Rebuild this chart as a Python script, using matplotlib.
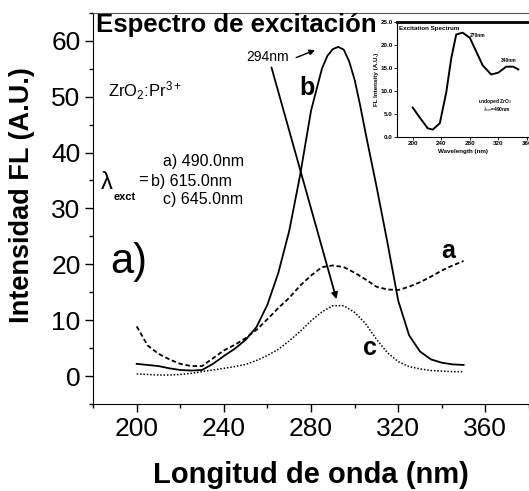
import matplotlib

matplotlib.use('Agg')

import matplotlib.pyplot as plt
from matplotlib.ticker import MultipleLocator

plt.rcParams['font.family'] = ['Liberation Sans', 'DejaVu Sans']
plt.rcParams['mathtext.fontset'] = 'custom'
plt.rcParams['mathtext.rm'] = 'Liberation Sans'
plt.rcParams['mathtext.it'] = 'Liberation Sans:italic'
plt.rcParams['mathtext.bf'] = 'Liberation Sans:bold'

# excitation spectra, ZrO2:Pr3+
wl = [200, 205, 210, 215, 220, 225, 230, 235, 240, 245, 250, 255, 260, 265, 270, 275,
      280, 285, 290, 295, 300, 305, 310, 315, 320, 325, 330, 335, 340, 345, 350]
int_a = [8.9, 5.5, 4.0, 3.0, 2.2, 1.8, 1.8, 3.2, 4.6, 5.6, 6.8, 8.3, 10.2, 12.2, 14.0, 16.2,
         18.0, 19.5, 19.8, 19.5, 18.5, 17.3, 16.0, 15.5, 15.4, 16.0, 16.8, 17.8, 18.9, 19.8, 20.6]
int_c = [0.4, 0.3, 0.2, 0.2, 0.3, 0.5, 0.8, 1.1, 1.4, 1.7, 2.1, 2.8, 3.7, 4.8, 6.3, 8.0,
         9.9, 11.5, 12.6, 12.6, 11.4, 9.4, 6.6, 4.2, 2.6, 1.7, 1.3, 1.0, 0.9, 0.8, 0.8]

wl_b = [200, 205, 210, 215, 220, 225, 230, 235, 240, 245, 250, 255, 260, 265, 270, 275,
        280, 285, 287.5, 290, 292.5, 295, 297.5, 300, 302.5, 305, 310, 315, 320, 325, 330,
        335, 340, 345, 350]
int_b = [2.2, 2.0, 1.8, 1.4, 1.1, 1.0, 1.1, 2.2, 3.6, 4.9, 6.5, 8.8, 12.8, 18.5, 26.0, 36.0,
         47.5, 55.0, 57.3, 58.5, 58.9, 58.4, 56.3, 53.0, 48.5, 43.5, 34.0, 24.0, 13.5, 7.3, 4.4,
         3.0, 2.4, 2.1, 2.0]

# inset: undoped ZrO2
inset_wl = [200, 210, 221, 228, 238, 247, 254, 261, 270, 280, 289, 298, 310, 320, 331, 341, 348]
inset_fl = [6.4, 4.2, 1.9, 1.6, 3.0, 9.7, 17.1, 22.3, 22.7, 21.6, 18.6, 15.6, 13.6, 14.0, 15.3, 15.3, 14.7]

xticks = [200, 240, 280, 320, 360]

fig = plt.figure(figsize=(5.29, 4.91), dpi=100)
ax = fig.add_axes([0.176, 0.177, 0.824, 0.797])

ax.plot(wl_b, int_b, color='black', lw=1.3)
ax.plot(wl, int_a, color='black', lw=1.3, linestyle=(0, (2.5, 1.5)))
ax.plot(wl, int_c, color='black', lw=1.1, linestyle=(0, (1, 1.2)))

ax.set_xlim(180, 380)
ax.set_ylim(-5, 65)
ax.set_xticks(xticks)
ax.xaxis.set_minor_locator(MultipleLocator(20))
ax.yaxis.set_major_locator(MultipleLocator(10))
ax.yaxis.set_minor_locator(MultipleLocator(5))
ax.tick_params(which='major', direction='out', length=6, width=1, labelsize=19, pad=3)
ax.tick_params(which='minor', direction='out', length=3, width=1)
ax.spines['right'].set_visible(False)
ax.spines['top'].set_color('#555555')

ax.set_xlabel('Longitud de onda (nm)', fontsize=21, fontweight='bold', labelpad=15)
ax.set_ylabel('Intensidad FL (A.U.)', fontsize=19.5, fontweight='bold')
ax.yaxis.set_label_coords(-0.133, 0.535)

ax.text(181.5, 62.8, 'Espectro de excitación', fontsize=18.5, fontweight='bold', va='center')
ax.text(187, 51, 'ZrO$_2$:Pr$^{3+}$', fontsize=12, va='center')
ax.text(183.5, 34.6, 'λ', fontsize=17, va='center')
ax.text(189.5, 32.0, 'exct', fontsize=8, fontweight='bold', va='center')
ax.text(200.8, 35.0, '=', fontsize=12, va='center')
ax.text(212, 38.4, 'a) 490.0nm', fontsize=11.5, va='center')
ax.text(206.5, 34.9, 'b) 615.0nm', fontsize=11.5, va='center')
ax.text(212, 31.6, 'c) 645.0nm', fontsize=11.5, va='center')
ax.text(188, 20.5, 'a)', fontsize=30, va='center')

ax.text(278, 51.5, 'b', fontsize=18, fontweight='bold', ha='center', va='center')
ax.text(343, 22.4, 'a', fontsize=18, fontweight='bold', ha='center', va='center')
ax.text(307, 5.0, 'c', fontsize=18, fontweight='bold', ha='center', va='center')

ax.text(260, 57.0, '294nm', fontsize=10, ha='center', va='center')
ax.annotate('', xy=(283, 58.5), xytext=(272, 56.8),
            arrowprops=dict(arrowstyle='-|>', color='black', lw=1, mutation_scale=8))
ax.annotate('', xy=(292, 13.3), xytext=(261.5, 55.7),
            arrowprops=dict(arrowstyle='-|>', color='black', lw=1.3, mutation_scale=9))

# inset
ins = fig.add_axes([0.7505, 0.721, 0.2495, 0.234])
ins.plot(inset_wl, inset_fl, color='black', lw=1.4)
ins.set_xlim(178, 363)
ins.set_ylim(0, 25)
ins.set_xticks(xticks)
ins.set_yticks([0, 5, 10, 15, 20, 25])
ins.set_yticklabels(['0.0', '5.0', '10.0', '15.0', '20.0', '25.0'])
ins.tick_params(labelsize=4.5, length=2, width=0.6, pad=1)
for lbl in ins.get_xticklabels() + ins.get_yticklabels():
    lbl.set_fontweight('bold')
ins.spines['top'].set_linewidth(2)
ins.spines['right'].set_visible(False)
ins.set_xlabel('Wavelength (nm)', fontsize=4.5, fontweight='bold', labelpad=2)
ins.set_ylabel('FL Intensity (A.U.)', fontsize=4.5, fontweight='bold', labelpad=1)
ins.text(181, 23.5, 'Excitation Spectrum', fontsize=4.5, fontweight='bold', va='center')
ins.text(280, 22.0, '270nm', fontsize=3.5, fontweight='bold', va='center')
ins.text(323, 16.6, '340nm', fontsize=3.5, fontweight='bold', va='center')
ins.text(291, 7.8, 'undoped ZrO$_2$', fontsize=3.5, fontweight='bold', va='center')
ins.text(298, 6.0, r'$\lambda_{em}$=490nm', fontsize=3.5, fontweight='bold', va='center')

fig.savefig('out.png', dpi=100)
